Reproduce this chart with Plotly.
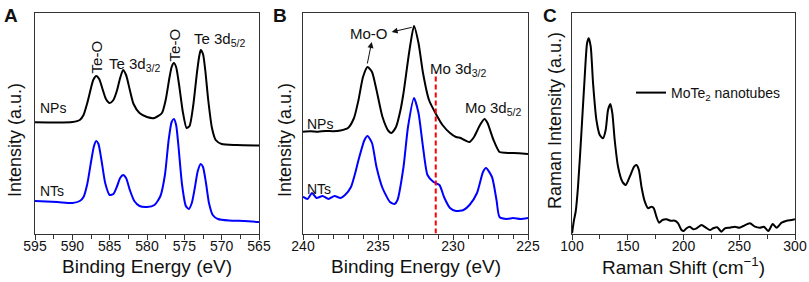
import plotly.graph_objects as go

# ---------------- Panel A : Te 3d XPS ----------------
a_nps_be = [595, 592, 590, 589, 588.5, 588, 587.5, 587.2, 586.8, 586.4, 586, 585.5, 585, 584.5, 584,
            583.6, 583.2, 582.8, 582.3, 581.8, 581, 580, 579, 578, 577.5, 577, 576.7, 576.4, 576.1,
            575.7, 575.2, 574.7, 574.3, 573.8, 573.3, 573, 572.8, 572.5, 572.2, 571.8, 571.3, 570.8,
            570, 568, 565]
a_nps_int = [111.2, 111, 111.5, 113.5, 118.5, 130.5, 145.5, 153.5, 157.5, 154.5, 145.5, 134.5, 130.5,
             133.5, 143.5, 155.5, 163.5, 158.5, 143.5, 129.5, 120.5, 116.5, 115.5, 120.5, 133.5, 155.5,
             166.5, 170.5, 166.5, 148.5, 121.5, 105.5, 107.5, 128.5, 161.5, 177.5, 183.5, 179.5, 163.5,
             133.5, 105.5, 93.5, 89.5, 88.5, 88]

a_nts_be = [595, 592, 590, 589, 588.5, 588, 587.5, 587.1, 586.8, 586.5, 586.1, 585.6, 585, 584.5, 584,
            583.6, 583.2, 582.8, 582.3, 581.7, 581, 580, 579, 578.2, 577.6, 577.1, 576.7, 576.4, 576.1,
            575.8, 575.3, 574.8, 574.4, 574, 573.6, 573.2, 572.8, 572.5, 572.1, 571.7, 571.2, 570.5,
            569, 567, 565]
a_nts_int = [32.5, 31.5, 30.5, 32.5, 36.5, 49.5, 71.5, 87.5, 92.5, 89.5, 73.5, 50.5, 38.5, 39.5, 47.5,
             55.5, 58.5, 55.5, 43.5, 32.5, 27.5, 26.5, 28.5, 37.5, 58.5, 93.5, 111.5, 114.5, 108.5,
             88.5, 48.5, 27.5, 24.5, 30.5, 45.5, 62.5, 69.5, 66.5, 50.5, 30.5, 18.5, 14.5, 13, 12.5, 11.5]

# ---------------- Panel B : Mo 3d XPS ----------------
b_nps_be = [240, 239.5, 239, 238.5, 238, 237.5, 237, 236.6, 236.3, 236, 235.7, 235.4, 235.1, 234.7,
            234.3, 234.1, 233.8, 233.5, 233.3, 232.9, 232.6, 232.3, 232, 231.6, 231.1, 230.7, 230.2,
            229.8, 229.5, 229.3, 228.9, 228.6, 228.2, 227.9, 227.7, 227.3, 226.9, 226.5, 226.2, 225.6, 225]
b_nps_int = [101.8, 102.3, 101.8, 102.6, 102.3, 103, 105.5, 115.5, 133.5, 156.5, 166.5, 161.5, 143.5,
             116.5, 102.5, 100.5, 106.5, 123.5, 140.5, 183.5, 207.5, 190.5, 160.5, 133.5, 118.5, 108.5,
             100.5, 96.5, 95.5, 94, 91.5, 96.5, 108.5, 114.5, 110.5, 93.5, 81.5, 80.8, 80.5, 80.2, 79.5]

b_nts_be = [240, 239.7, 239.4, 239.1, 238.7, 238.3, 237.9, 237.5, 237.2, 236.8, 236.5, 236.3, 235.9,
            235.7, 235.4, 235.1, 234.7, 234.2, 233.9, 233.7, 233.3, 233, 232.6, 232.3, 232, 231.7,
            231.3, 230.9, 230.6, 230.2, 229.8, 229.3, 228.9, 228.4, 228, 227.8, 227.4, 227.1, 226.9,
            226.4, 226, 225.5, 225]
b_nts_int = [36.8, 34.5, 40.5, 35.5, 37.5, 34.5, 37.5, 35.5, 38.5, 46.5, 61.5, 73.5, 93.5, 97.5, 90.5,
             66.5, 45.5, 31.5, 29.5, 33.5, 66.5, 106.5, 135.5, 120.5, 86.5, 58.5, 51.5, 48.5, 36.5,
             25.5, 22.5, 23.5, 28.5, 40.5, 61.5, 65.5, 56.5, 33.5, 16.5, 14.5, 15.5, 14.5, 15.5]

mo3d32_be = [231.15, 231.15]
mo3d32_marker = [0, 161.8]

# ---------------- Panel C : Raman ----------------
c_shift = [100, 101.8, 103.3, 105.4, 108.4, 111.4, 113.5, 115, 116.8, 118.9, 121.9, 124.9, 127.8, 130.2,
           132.3, 134.4, 136.2, 138.3, 141.3, 145.2, 148.2, 151.8, 155.7, 157.8, 160, 162.3, 165.3,
           168.3, 171.3, 173.4, 175.7, 178.1, 181.1, 184.7, 188.3, 192.2, 195.2, 198.2, 200.3, 202.7,
           205.7, 208.7, 211.7, 216.2, 220.1, 223.7, 226.6, 230.2, 234.1, 237.1, 241.6, 246.1, 250,
           253.6, 259.6, 264.1, 268.6, 272.2, 276.1, 280, 283.5, 288, 292.5, 297, 300]
c_int = [0, 13.5, 21.8, 46.8, 100.2, 156.8, 190.2, 195.2, 186.8, 150.2, 113.5, 98.5, 95.2, 103.5, 123.5,
         129.5, 120.2, 93.5, 66.8, 51.8, 48.5, 56.8, 66.8, 68.5, 63.5, 46.8, 31.8, 25.2, 26.8, 25.2,
         16.8, 10.8, 13.5, 14.2, 12.8, 12.8, 10.2, 3.5, 2.5, 5.2, 6.8, 4.2, 5.2, 8.5, 5.8, 3.5, 5.2,
         6.2, 1.8, 5.2, 5.8, 6.8, 5.8, 7.5, 10.2, 6.8, 5.8, 6.8, 2.5, 9.5, 5.8, 10.8, 12.8, 13.5, 14.2]

FONT = "Arial, Liberation Sans, sans-serif"
BLACK = "#000000"
BLUE = "#0000ff"
FRAME = "#333333"
TXT = "#111111"

fig = go.Figure()

def line(color, w=2):
    return dict(color=color, width=w, shape="spline", smoothing=0.6)

fig.add_trace(go.Scatter(x=a_nps_be, y=a_nps_int, mode="lines", line=line(BLACK), xaxis="x", yaxis="y", showlegend=False))
fig.add_trace(go.Scatter(x=a_nts_be, y=a_nts_int, mode="lines", line=line(BLUE), xaxis="x", yaxis="y", showlegend=False))
fig.add_trace(go.Scatter(x=b_nps_be, y=b_nps_int, mode="lines", line=line(BLACK), xaxis="x2", yaxis="y2", showlegend=False))
fig.add_trace(go.Scatter(x=b_nts_be, y=b_nts_int, mode="lines", line=line(BLUE), xaxis="x2", yaxis="y2", showlegend=False))
fig.add_trace(go.Scatter(x=mo3d32_be, y=mo3d32_marker, mode="lines", line=dict(color="#ff0000", width=2, dash="5px,3px"),
                         xaxis="x2", yaxis="y2", showlegend=False))
fig.add_trace(go.Scatter(x=c_shift, y=c_int, mode="lines", line=line(BLACK), xaxis="x3", yaxis="y3",
                         name="MoTe<sub>2</sub> nanotubes", showlegend=True))

W, H = 809, 282
def px(x):
    return x / W
def py(y):
    return 1 - y / H

ydom = [py(233.5), py(13)]

def xax(dom, rng, dtick, minor, anchor):
    return dict(domain=dom, range=rng, showline=True, linecolor=FRAME, linewidth=1, mirror=True,
                ticks="outside", ticklen=5, tickwidth=1, tickcolor=FRAME, dtick=dtick, tick0=0,
                minor=dict(ticks="outside", ticklen=4, tickwidth=1, tickcolor=FRAME, dtick=minor, tick0=0),
                showgrid=False, zeroline=False, automargin=False, anchor=anchor, ticklabelstandoff=-5,
                tickfont=dict(size=14, color=TXT, family=FONT))

def yax(anchor):
    return dict(domain=ydom, range=[0, 220.5], showline=True, linecolor=FRAME, linewidth=1, mirror=True,
                ticks="", showticklabels=False, showgrid=False, zeroline=False, anchor=anchor, automargin=False)

fig.update_layout(
    width=W, height=H, margin=dict(l=0, r=0, t=0, b=0, autoexpand=False),
    paper_bgcolor="white", plot_bgcolor="white",
    font=dict(family=FONT, color=TXT),
    xaxis=xax([px(35), px(259)], [595, 565], 5, 2.5, "y"),
    yaxis=yax("x"),
    xaxis2=xax([px(303), px(528)], [240, 225], 5, 1, "y2"),
    yaxis2=yax("x2"),
    xaxis3=xax([px(572), px(795)], [100, 300], 50, 25, "y3"),
    yaxis3=yax("x3"),
    legend=dict(x=px(631), y=py(93), xanchor="left", yanchor="middle", bgcolor="rgba(0,0,0,0)",
                font=dict(size=14, color=TXT, family=FONT), borderwidth=0),
    showlegend=True,
)

ann = []
def t(x, y, text, xref, yref, size=15, xanchor="left", angle=0, yanchor="middle"):
    ann.append(dict(x=x, y=y, xref=xref, yref=yref, text=text, showarrow=False, textangle=angle,
                    xanchor=xanchor, yanchor=yanchor, font=dict(size=size, color=TXT, family=FONT)))

# axis titles
t(px(147), py(266), "Binding Energy (eV)", "paper", "paper", size=19, xanchor="center")
t(px(415.5), py(266), "Binding Energy (eV)", "paper", "paper", size=19, xanchor="center")
t(px(683), py(266), "Raman Shift (cm<sup>\u22121</sup>)", "paper", "paper", size=19, xanchor="center")
t(px(15), py(140), "Intensity (a.u.)", "paper", "paper", size=18, xanchor="center", angle=-90)
t(px(285), py(140), "Intensity (a.u.)", "paper", "paper", size=18, xanchor="center", angle=-90)
t(px(555), py(121), "Raman Intensity (a.u.)", "paper", "paper", size=18, xanchor="center", angle=-90)

# panel letters
for lx, letter in [(2, "A"), (271, "B"), (541, "C")]:
    ann.append(dict(x=px(lx), y=py(3), xref="paper", yref="paper", text="<b>%s</b>" % letter, showarrow=False,
                    xanchor="left", yanchor="top", font=dict(size=19, color=TXT, family=FONT)))

# Panel A labels
t(586.77, 176.5, "Te-O", "x", "y", xanchor="center", angle=-90)
t(585.3, 169, "Te 3d<sub>3/2</sub>", "x", "y")
t(576.33, 188.5, "Te-O", "x", "y", xanchor="center", angle=-90)
t(573.95, 194, "Te 3d<sub>5/2</sub>", "x", "y")
t(594.6, 125.5, "NPs", "x", "y", size=14)
t(594.6, 42.5, "NTs", "x", "y", size=14)

# Panel B labels
t(237.0, 200.5, "Mo-O", "x2", "y2")
t(231.67, 164, "Mo 3d<sub>3/2</sub>", "x2", "y2")
t(229.33, 125, "Mo 3d<sub>5/2</sub>", "x2", "y2")
t(239.87, 109.5, "NPs", "x2", "y2", size=14)
t(239.87, 44.5, "NTs", "x2", "y2", size=14)

# arrows from peaks to Mo-O label
for (hx, hy, tx, ty) in [(235.42, 191.5, 235.73, 168.5), (234.09, 201.5, 232.65, 206.5)]:
    ann.append(dict(x=hx, y=hy, ax=tx, ay=ty, xref="x2", yref="y2", axref="x2", ayref="y2", text="",
                    showarrow=True, arrowhead=2, arrowsize=1.2, arrowwidth=1, arrowcolor=TXT, standoff=0,
                    startstandoff=0))

fig.update_layout(annotations=ann)
fig.write_html("out.html", config={"displayModeBar": False},
               post_script="document.body.style.margin='0';document.body.style.padding='0';")
